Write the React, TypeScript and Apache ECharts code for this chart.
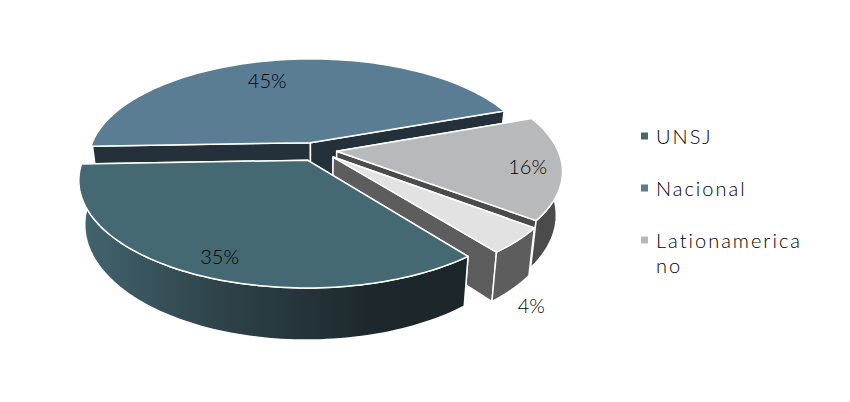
import React, { useEffect, useRef } from "react";
import * as echarts from "echarts";

const categories = ["UNSJ", "Nacional", "Lationamerica no", "Internacional"];
const values = [35, 45, 16, 4];
const legendNames = ["UNSJ", "Nacional", "Lationamerica no"];
const topColors = ["#456973", "#5a7d94", "#b8b9bb", "#e2e2e2"];
const wallColors = ["#1c282c", "#24313a", "#4b4b4b", "#5d5d5d"];
const drawOrder = [1, 2, 3, 0];
const explodeX = [-0.032, -0.021, 0.098, 0.081];
const explodeY = [0.1, -0.073, 0.012, 0.069];
const labelRadius = [0.85, 0.75, 0.85, 1.33];
const labelAngleShift = [-2, -6.5, 1, 14];

const START = 52;
const CX = 315, CY = 150, A = 221, B = 101, K = 0.177, H = 42;
const FONT = "Lato";

const total = values.reduce((s, v) => s + v, 0);
function sliceAngles(i: number) {
  let acc = 0;
  for (let j = 0; j < i; j++) acc += values[j];
  const a0 = START + (acc / total) * 360;
  const a1 = a0 + (values[i] / total) * 360;
  return [a0, a1];
}
const rad = (d: number) => (d * Math.PI) / 180;
function world(i: number, r: number, deg: number) {
  return [explodeX[i] + r * Math.cos(rad(deg)), explodeY[i] + r * Math.sin(rad(deg))];
}
function top(p: number[]) {
  const w = 1 - K * p[1];
  return [CX + (A * p[0]) / w, CY + (B * p[1]) / w];
}
function bottom(p: number[]) {
  const w = 1 - K * p[1];
  return [CX + (0.975 * A * p[0]) / w, CY + (B * p[1]) / w + H / w];
}

function renderSlice(i: number) {
  return () => {
    const [a0, a1] = sliceAngles(i);
    const steps = 90;
    const arc: number[][] = [];
    const front: number[][] = [];
    for (let s = 0; s <= steps; s++) {
      const deg = a0 + ((a1 - a0) * s) / steps;
      arc.push(world(i, 1, deg));
      if (Math.sin(rad(deg)) >= 0) front.push(world(i, 1, deg));
    }
    const apex = world(i, 0, a0);
    const stroke = { stroke: "#fff", lineWidth: 1.5, lineJoin: "round" };
    const wallFill =
      i === 0
        ? new echarts.graphic.LinearGradient(0, 0, 1, 0, [
            { offset: 0, color: "#426570" },
            { offset: 0.35, color: "#30444b" },
            { offset: 0.75, color: "#1c282c" },
            { offset: 1, color: "#1a2629" },
          ])
        : wallColors[i];
    const cutWall = (p: number[]) => ({
      type: "polygon",
      shape: { points: [top(apex), top(p), bottom(p), bottom(apex)] },
      style: { fill: wallColors[i], ...stroke },
    });
    const outer = {
      type: "polygon",
      shape: { points: [...front.map(top), ...front.slice().reverse().map(bottom)] },
      style: { fill: wallFill, ...stroke },
    };
    const face = {
      type: "polygon",
      shape: { points: [top(apex), ...arc.map(top)] },
      style: { fill: topColors[i], ...stroke },
    };
    const lp = top(world(i, labelRadius[i], (a0 + a1) / 2 + labelAngleShift[i]));
    const label = {
      type: "text",
      style: {
        text: `${values[i]}%`,
        x: lp[0],
        y: lp[1],
        align: "center",
        verticalAlign: "middle",
        fontFamily: FONT,
        fontWeight: 300,
        fontSize: 20,
        fill: "#000",
      },
    };
    const children: any[] = [cutWall(arc[0]), cutWall(arc[steps])];
    if (front.length > 1) children.push(outer);
    children.push(face, label);
    return { type: "group", children };
  };
}

export default function App() {
  const ref = useRef<HTMLDivElement>(null);
  useEffect(() => {
    document.body.style.margin = "0";
    const chart = echarts.init(ref.current!, undefined, { renderer: "svg" });
    chart.setOption({
      animation: false,
      legend: {
        data: legendNames,
        orient: "vertical",
        left: 636,
        top: 121,
        icon: "rect",
        itemWidth: 7,
        itemHeight: 7,
        itemGap: 32,
        selectedMode: false,
        formatter: (name: string) => name.split(" ")[0],
        textStyle: { fontFamily: FONT, fontWeight: 300, fontSize: 20, color: "#000", padding: [0, 0, 0, 3] },
      },
      graphic: [
        {
          type: "text",
          left: 656,
          top: 255,
          style: { text: legendNames[2].split(" ")[1], fontFamily: FONT, fontWeight: 300, fontSize: 20, fill: "#000" },
        },
      ],
      series: drawOrder.map((i) => ({
        type: "custom",
        name: categories[i],
        coordinateSystem: "none",
        silent: true,
        itemStyle: { color: topColors[i] },
        data: [[values[i]]],
        renderItem: renderSlice(i),
      })),
    });
    ref.current!.querySelectorAll("text").forEach((t) => {
      if (!(t.textContent || "").includes("%")) (t as SVGTextElement).style.letterSpacing = "2px";
    });
    return () => chart.dispose();
  }, []);
  return <div ref={ref} style={{ width: 850, height: 402 }} />;
}
